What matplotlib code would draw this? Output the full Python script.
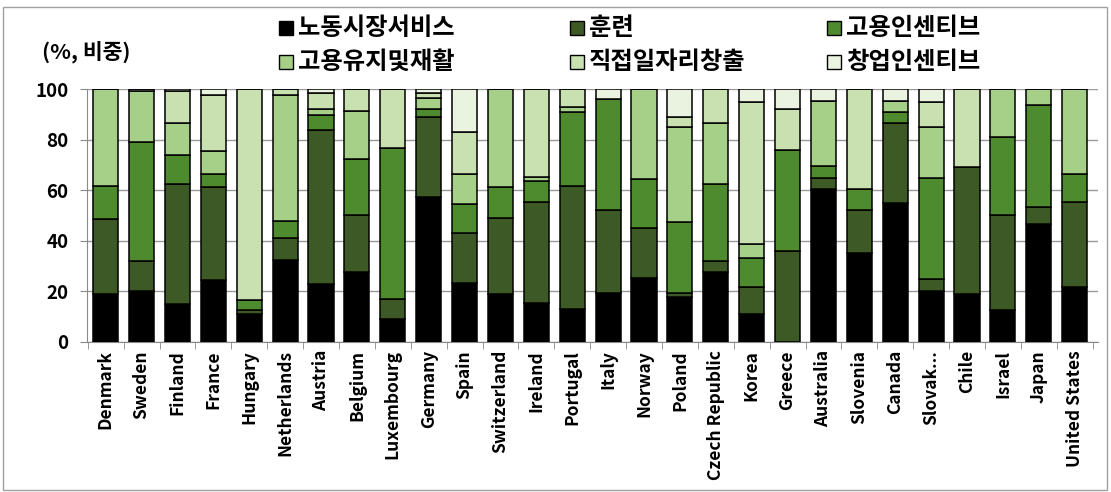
import matplotlib
matplotlib.use("Agg")
import matplotlib.pyplot as plt
from matplotlib.patches import Rectangle
import numpy as np

plt.rcParams['font.family'] = ['Noto Sans CJK KR', 'DejaVu Sans']

countries = ["Denmark", "Sweden", "Finland", "France", "Hungary", "Netherlands", "Austria",
             "Belgium", "Luxembourg", "Germany", "Spain", "Switzerland", "Ireland", "Portugal",
             "Italy", "Norway", "Poland", "Czech Republic", "Korea", "Greece", "Australia",
             "Slovenia", "Canada", "Slovak...", "Chile", "Israel", "Japan", "United States"]

series_names = ["노동시장서비스", "훈련", "고용인센티브", "고용유지및재활", "직접일자리창출", "창업인센티브"]

labor_services = [19.0, 20.0, 15.0, 24.4, 11.0, 32.4, 22.7, 27.7, 9.1, 57.5, 23.4, 18.8, 15.5, 12.8,
                  19.4, 25.1, 17.8, 27.7, 10.8, 0.0, 60.5, 35.0, 54.8, 20.1, 18.8, 12.5, 46.5, 21.8]
training = [29.5, 12.0, 47.5, 36.8, 1.5, 8.8, 61.2, 22.5, 7.7, 31.7, 19.5, 30.3, 39.7, 48.9,
            32.8, 19.8, 1.4, 4.3, 11.0, 35.9, 4.5, 17.2, 31.7, 4.7, 50.3, 37.7, 7.0, 33.4]
emp_incentives = [13.2, 47.0, 11.6, 5.1, 4.0, 6.5, 5.9, 22.1, 60.1, 2.9, 11.7, 12.1, 8.6, 29.2,
                  44.0, 19.6, 28.4, 30.5, 11.5, 40.1, 4.6, 8.3, 4.4, 40.2, 0.0, 31.0, 40.2, 11.1]
sheltered_rehab = [38.3, 20.3, 12.4, 9.3, 0.0, 49.9, 2.3, 19.2, 0.0, 4.3, 11.7, 38.8, 1.6, 2.0,
                   0.0, 35.5, 37.6, 24.0, 5.3, 0.0, 25.9, 0.0, 4.6, 19.9, 0.0, 18.8, 6.3, 33.7]
direct_jobs = [0.0, 0.7, 12.8, 22.0, 83.5, 2.4, 6.3, 8.5, 23.1, 2.0, 16.9, 0.0, 34.6, 7.1,
               0.0, 0.0, 4.0, 13.5, 56.4, 16.1, 0.0, 39.5, 0.0, 10.1, 30.9, 0.0, 0.0, 0.0]
startup = [0.0, 0.0, 0.7, 2.4, 0.0, 0.0, 1.6, 0.0, 0.0, 1.6, 16.8, 0.0, 0.0, 0.0,
           3.8, 0.0, 10.8, 0.0, 5.0, 7.9, 4.5, 0.0, 4.5, 5.0, 0.0, 0.0, 0.0, 0.0]

series = [labor_services, training, emp_incentives, sheltered_rehab, direct_jobs, startup]
colors = ["#000000", "#3d5a26", "#4e8a2e", "#a6cf88", "#c9e0b0", "#eaf2e0"]
yticks = [0, 20, 40, 60, 80, 100]

W, H = 1111, 492
fig = plt.figure(figsize=(W / 100, H / 100), dpi=100)
ax = fig.add_axes([86.7 / W, 1 - 341.7 / H, (1098 - 86.7) / W, (341.7 - 89.3) / H])

x = np.arange(len(countries))
bottom = np.zeros(len(countries))
for vals, col in zip(series, colors):
    v = np.array(vals)
    ax.bar(x, v, bottom=bottom, width=0.70, color=col, edgecolor="black", linewidth=1.1, zorder=3)
    bottom += v

ax.set_ylim(0, 100)
ax.set_xlim(-0.53, len(countries) - 0.35)
ax.set_yticks(yticks)
ax.set_yticklabels([str(t) for t in yticks], fontsize=13.5, fontweight="bold")
ax.yaxis.grid(True, color="#9a9a9a", linewidth=1.0, zorder=0)
ax.tick_params(axis="y", length=5, color="#8a8a8a", pad=8)

ax.set_xticks(x)
ax.set_xticklabels(countries, rotation=90, fontsize=12.5, fontweight="bold")
ax.set_xticks(np.arange(len(countries) + 1) - 0.5, minor=True)
ax.tick_params(axis="x", which="major", length=0, pad=6)
ax.tick_params(axis="x", which="minor", length=5, color="#8a8a8a")

for s in ["top", "right"]:
    ax.spines[s].set_visible(False)
ax.spines["left"].set_color("#8a8a8a")
ax.spines["bottom"].set_color("#8a8a8a")

# unit label
fig.text(42 / W, 1 - 52 / H, "(%, 비중)", fontsize=15.5, fontweight="bold", va="center", ha="left")

# manual legend (3 columns x 2 rows)
col_x = [279, 570, 827]
row_y = [28, 62]
sw = 14
for i, (name, col) in enumerate(zip(series_names, colors)):
    cx = col_x[i % 3]
    cy = row_y[i // 3]
    fig.patches.append(Rectangle((cx / W, 1 - (cy + sw / 2) / H), sw / W, sw / H,
                                 transform=fig.transFigure, facecolor=col,
                                 edgecolor="black", linewidth=1.0))
    fig.text((cx + sw + 5) / W, 1 - cy / H, name, fontsize=17.5, fontweight="bold",
             va="center", ha="left")

# chart border
fig.patches.append(Rectangle((3 / W, 2 / H), (W - 7) / W, (H - 9) / H, transform=fig.transFigure,
                             facecolor="none", edgecolor="#a0a0a0", linewidth=1.0))

fig.savefig("out.png", dpi=100)
